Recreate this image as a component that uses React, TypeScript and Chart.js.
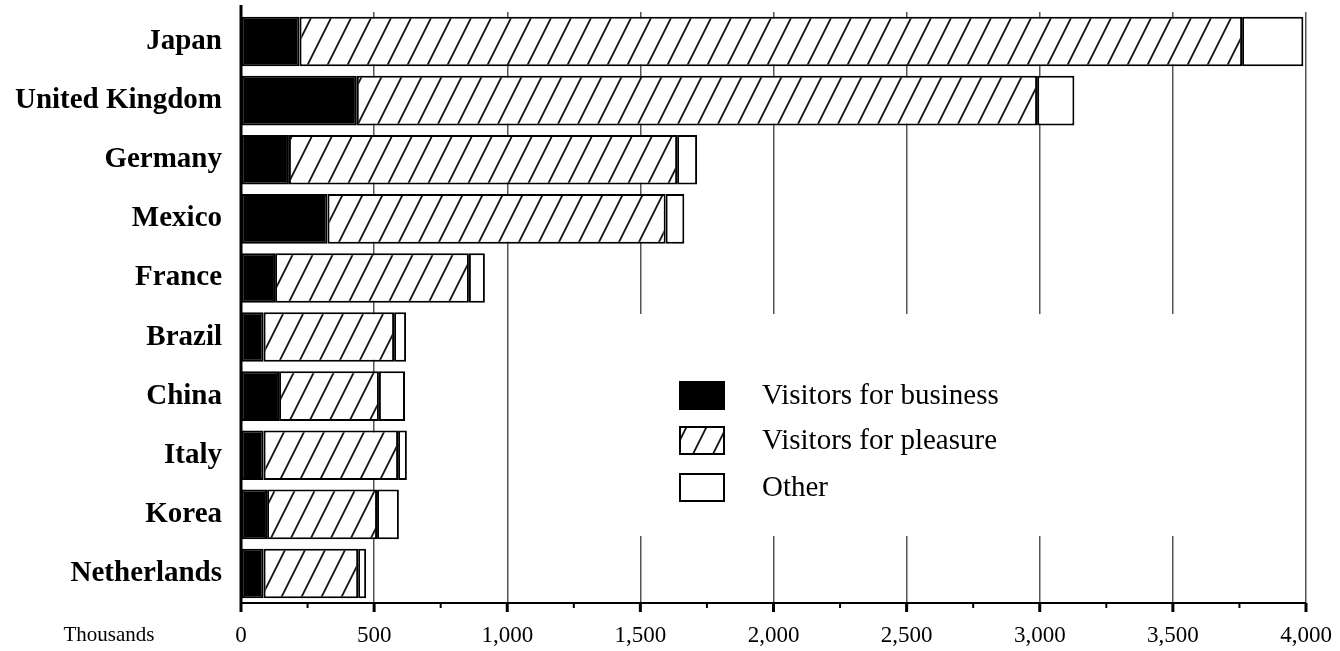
import React, { useEffect, useRef } from "react";
import { Chart, registerables } from "chart.js";

Chart.register(...registerables);

const categories = [
  "Japan",
  "United Kingdom",
  "Germany",
  "Mexico",
  "France",
  "Brazil",
  "China",
  "Italy",
  "Korea",
  "Netherlands",
];
const business = [220, 435, 180, 325, 128, 85, 143, 85, 98, 85];
const pleasure = [3540, 2555, 1458, 1270, 728, 490, 375, 505, 413, 355];
const other = [230, 140, 75, 70, 60, 45, 98, 33, 82, 30];
const seriesNames = ["Visitors for business", "Visitors for pleasure", "Other"];
const axisMax = 4000;
const majorStep = 500;
const minorStep = 250;
const unitLabel = "Thousands";

const SERIF = '"Liberation Serif", "Times New Roman", serif';

function makeHatch(): CanvasPattern | string {
  const c = document.createElement("canvas");
  c.width = 20;
  c.height = 40;
  const g = c.getContext("2d");
  if (!g) return "#fff";
  g.fillStyle = "#fff";
  g.fillRect(0, 0, 20, 40);
  g.strokeStyle = "#111";
  g.lineWidth = 1.8;
  const lines = [
    [-10, 60, 30, -20],
    [10, 60, 50, -20],
    [-30, 60, 10, -20],
  ];
  for (const [x1, y1, x2, y2] of lines) {
    g.beginPath();
    g.moveTo(x1, y1);
    g.lineTo(x2, y2);
    g.stroke();
  }
  const p = g.createPattern(c, "repeat");
  return p || "#fff";
}

export default function App() {
  const ref = useRef<HTMLCanvasElement | null>(null);

  useEffect(() => {
    document.body.style.margin = "0";
    const canvas = ref.current;
    if (!canvas) return;
    const hatch = makeHatch();

    const decor = {
      id: "decor",
      beforeDatasetsDraw(chart: any) {
        // white backdrop of the legend hides the grid lines behind it
        const ctx = chart.ctx;
        ctx.save();
        ctx.fillStyle = "#fff";
        ctx.fillRect(560, 314, 735, 222);
        ctx.restore();
      },
      afterDraw(chart: any) {
        const ctx = chart.ctx;
        const xs = chart.scales.x;
        const area = chart.chartArea;
        ctx.save();
        // left axis line
        ctx.strokeStyle = "#000";
        ctx.lineWidth = 3;
        ctx.beginPath();
        ctx.moveTo(area.left, area.top - 7);
        ctx.lineTo(area.left, area.bottom + 9);
        ctx.stroke();
        // tick marks
        for (let v = minorStep; v <= axisMax; v += minorStep) {
          const x = xs.getPixelForValue(v);
          const major = v % majorStep === 0;
          ctx.lineWidth = major ? 3 : 2;
          ctx.beginPath();
          ctx.moveTo(x, area.bottom);
          ctx.lineTo(x, area.bottom + (major ? 9 : 5));
          ctx.stroke();
        }
        // unit label
        ctx.fillStyle = "#000";
        ctx.font = `21px ${SERIF}`;
        ctx.textAlign = "center";
        ctx.textBaseline = "middle";
        ctx.fillText(unitLabel, 109, 635);
        // legend
        const fills = ["#000", hatch, "#fff"];
        const boxX = 680;
        const boxW = 44;
        const rowY = [395, 440, 487];
        for (let i = 0; i < 3; i++) {
          const y = rowY[i];
          ctx.fillStyle = fills[i] as any;
          ctx.fillRect(boxX, y - 13, boxW, 27);
          ctx.strokeStyle = "#000";
          ctx.lineWidth = 2;
          ctx.strokeRect(boxX, y - 13, boxW, 27);
          ctx.fillStyle = "#000";
          ctx.font = `29px ${SERIF}`;
          ctx.textAlign = "left";
          ctx.textBaseline = "middle";
          ctx.fillText(seriesNames[i], 762, y + 1);
        }
        ctx.restore();
      },
    };

    const common = {
      borderColor: "#000",
      borderWidth: 2,
      borderSkipped: false,
      barPercentage: 0.84,
      categoryPercentage: 1,
    };

    const chart = new Chart(canvas, {
      type: "bar",
      data: {
        labels: categories,
        datasets: [
          { label: seriesNames[0], data: business, backgroundColor: "#000", ...common },
          { label: seriesNames[1], data: pleasure, backgroundColor: hatch as any, ...common },
          { label: seriesNames[2], data: other, backgroundColor: "#fff", ...common },
        ],
      },
      options: {
        indexAxis: "y",
        animation: false,
        responsive: false,
        devicePixelRatio: 1,
        layout: { padding: { top: 12, right: 34, left: 0, bottom: 0 } },
        plugins: { legend: { display: false }, tooltip: { enabled: false } },
        scales: {
          x: {
            stacked: true,
            min: 0,
            max: axisMax,
            afterFit: (s: any) => {
              s.height = 48;
              s.paddingLeft = 0;
              s.paddingRight = 0;
            },
            ticks: {
              stepSize: minorStep,
              autoSkip: false,
              maxRotation: 0,
              padding: 19,
              color: "#000",
              font: { family: SERIF, size: 23 },
              callback: (v: any) =>
                Number(v) % majorStep === 0 ? Number(v).toLocaleString("en-US") : "",
            },
            grid: {
              drawTicks: false,
              lineWidth: 1.5,
              color: (c: any) => {
                const v = c.tick ? c.tick.value : 0;
                return v > 0 && v % majorStep === 0 ? "#555" : "rgba(0,0,0,0)";
              },
            },
            border: { display: true, color: "#000", width: 2 },
          },
          y: {
            stacked: true,
            afterFit: (s: any) => {
              s.width = 241;
              s.paddingTop = 0;
              s.paddingBottom = 0;
            },
            ticks: {
              padding: 19,
              color: "#000",
              font: { family: SERIF, size: 29, weight: "bold" },
            },
            grid: { display: false, drawTicks: false },
            border: { display: false },
          },
        },
      },
      plugins: [decor],
    });
    return () => chart.destroy();
  }, []);

  return (
    <div style={{ position: "absolute", left: 0, top: 0, width: 1340, height: 651, background: "#fff" }}>
      <canvas ref={ref} width={1340} height={651} />
    </div>
  );
}
